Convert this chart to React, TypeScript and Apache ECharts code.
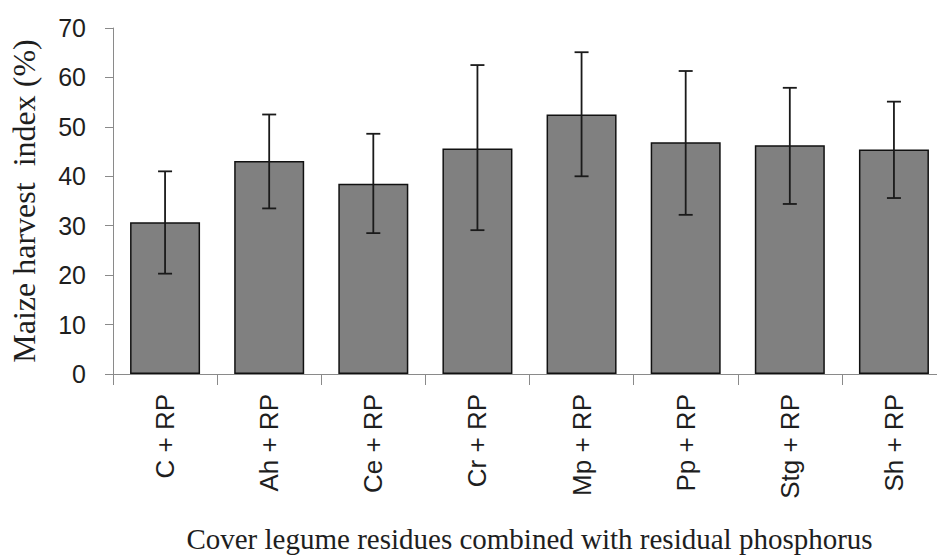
import React, { useEffect, useRef } from "react";
import * as echarts from "echarts";

const categories = ["C + RP", "Ah + RP", "Ce + RP", "Cr + RP", "Mp + RP", "Pp + RP", "Stg + RP", "Sh + RP"];
const harvestIndex = [30.7, 43.1, 38.5, 45.6, 52.5, 46.9, 46.3, 45.4];
const errorLow = [20.3, 33.5, 28.5, 29.1, 40.0, 32.2, 34.4, 35.6];
const errorHigh = [41.0, 52.5, 48.6, 62.5, 65.1, 61.3, 57.9, 55.1];
const yTicks = { min: 0, max: 70, interval: 10 };

export default function App() {
  const ref = useRef<HTMLDivElement>(null);
  useEffect(() => {
    if (!ref.current) return;
    const chart = echarts.init(ref.current, null, { renderer: "svg" });
    const errData = categories.map((_, i) => [i, errorLow[i], errorHigh[i]]);
    chart.setOption({
      animation: false,
      backgroundColor: "#ffffff",
      grid: { left: 112, right: 14, top: 28, bottom: 178, containLabel: false },
      xAxis: {
        type: "category",
        data: categories,
        boundaryGap: true,
        axisLine: { lineStyle: { color: "#8a8a8a", width: 1 } },
        axisTick: { show: true, length: 11, alignWithLabel: false, lineStyle: { color: "#8a8a8a" } },
        axisLabel: {
          rotate: 90,
          margin: 20,
          fontFamily: "Liberation Sans, Arial, sans-serif",
          fontSize: 26,
          color: "#1e1e1e",
        },
        name: "Cover legume residues combined with residual phosphorus",
        nameLocation: "middle",
        nameGap: 150,
        nameTextStyle: {
          fontFamily: "Liberation Serif, Times New Roman, serif",
          fontSize: 29,
          color: "#1e1e1e",
        },
      },
      yAxis: {
        type: "value",
        min: yTicks.min,
        max: yTicks.max,
        interval: yTicks.interval,
        splitLine: { show: false },
        axisLine: { show: true, lineStyle: { color: "#8a8a8a", width: 1 } },
        axisTick: { show: true, length: 8, lineStyle: { color: "#8a8a8a" } },
        axisLabel: {
          margin: 27,
          fontFamily: "Liberation Sans, Arial, sans-serif",
          fontSize: 25,
          color: "#1e1e1e",
        },
        name: "Maize harvest  index (%)",
        nameLocation: "middle",
        nameRotate: 90,
        nameGap: 73,
        nameTextStyle: {
          fontFamily: "Liberation Serif, Times New Roman, serif",
          fontSize: 32,
          color: "#1e1e1e",
        },
      },
      series: [
        {
          type: "bar",
          data: harvestIndex,
          barWidth: 70,
          itemStyle: { color: "#808080", borderColor: "#111111", borderWidth: 1.5 },
        },
        {
          type: "custom",
          data: errData,
          z: 10,
          renderItem: (params: any, api: any) => {
            const x = api.value(0);
            const top = api.coord([x, api.value(2)]);
            const bot = api.coord([x, api.value(1)]);
            const hw = 7;
            const style = { stroke: "#1a1a1a", lineWidth: 1.8 };
            return {
              type: "group",
              children: [
                { type: "line", shape: { x1: top[0], y1: top[1], x2: bot[0], y2: bot[1] }, style },
                { type: "line", shape: { x1: top[0] - hw, y1: top[1], x2: top[0] + hw, y2: top[1] }, style },
                { type: "line", shape: { x1: bot[0] - hw, y1: bot[1], x2: bot[0] + hw, y2: bot[1] }, style },
              ],
            };
          },
        },
      ],
    });
    return () => chart.dispose();
  }, []);
  return (
    <div style={{ position: "fixed", left: 0, top: 0, width: 937, height: 558, overflow: "hidden", background: "#fff" }}>
      <div ref={ref} style={{ width: 960, height: 558 }} />
    </div>
  );
}
